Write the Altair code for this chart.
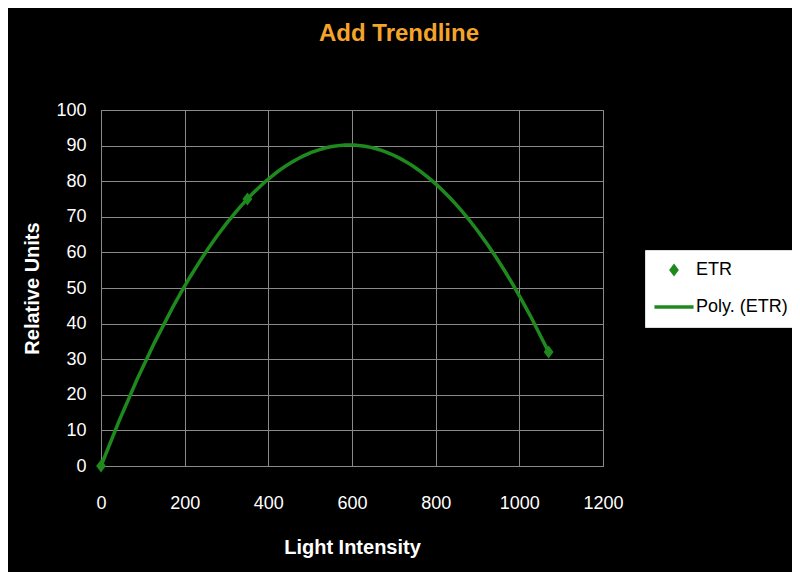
import altair as alt
import pandas as pd

# Data
light = [0, 350, 1070]
etr = [0, 75, 32]
series_names = ["ETR", "Poly. (ETR)"]

df = pd.DataFrame({"x": light, "y": etr, "series": ["ETR"] * len(light)})

GREEN = "#1e8a1e"
FONT = "Liberation Sans, Arial, sans-serif"
DIAMOND = "M0,-1 L0.75,0 L0,1 L-0.75,0 Z"
BAR = "M-3,-0.28 L3,-0.28 L3,0.28 L-3,0.28 Z"

x_enc = alt.X("x:Q", scale=alt.Scale(domain=[0, 1200], nice=False),
              axis=alt.Axis(values=[0, 200, 400, 600, 800, 1000, 1200], format="d",
                            labelFlush=False,
                            title="Light Intensity", labelPadding=28, titlePadding=25))
y_enc = alt.Y("y:Q", scale=alt.Scale(domain=[0, 100], nice=False),
              axis=alt.Axis(values=list(range(0, 101, 10)), title="Relative Units",
                            labelFlush=False, labelPadding=15, titlePadding=13))

trend = alt.Chart(df).transform_regression(
    "x", "y", method="poly", order=2, extent=[0, 1070]
).mark_line(color=GREEN, strokeWidth=3.5).encode(x=x_enc, y=y_enc)

legend_kw = dict(title=None, orient="none", legendX=544, legendY=140,
                 fillColor="white", strokeColor="#dddddd", padding=11,
                 symbolOffset=9, labelOffset=13, rowPadding=18,
                 labelFont=FONT, labelFontSize=18, labelColor="black",
                 symbolSize=170, symbolOpacity=1)

points = alt.Chart(df).mark_point(filled=True, size=170, opacity=1).encode(
    x=x_enc, y=y_enc,
    color=alt.Color("series:N", scale=alt.Scale(domain=series_names, range=[GREEN, GREEN]),
                    legend=alt.Legend(**legend_kw)),
    shape=alt.Shape("series:N", scale=alt.Scale(domain=series_names, range=[DIAMOND, BAR]),
                    legend=alt.Legend(**legend_kw)),
)

chart = alt.layer(trend, points).properties(
    width=502, height=356,
    autosize=alt.AutoSizeParams(type="none"),
    padding={"left": 93, "top": 102, "right": 189, "bottom": 106},
    background="black",
    title=alt.TitleParams("Add Trendline", color="#f5a42a", font=FONT,
                          fontSize=24, fontWeight="bold", anchor="middle", offset=55, dx=47),
).configure_view(
    fill="black", stroke="#8a8a8a", strokeWidth=1
).configure_axis(
    gridColor="#8a8a8a", gridWidth=1, domainColor="#8a8a8a", ticks=False,
    labelColor="white", labelFont=FONT, labelFontSize=18,
    titleColor="white", titleFont=FONT, titleFontSize=20, titleFontWeight="bold",
)

chart.save("out.html", embed_options={"renderer": "svg", "actions": False})
